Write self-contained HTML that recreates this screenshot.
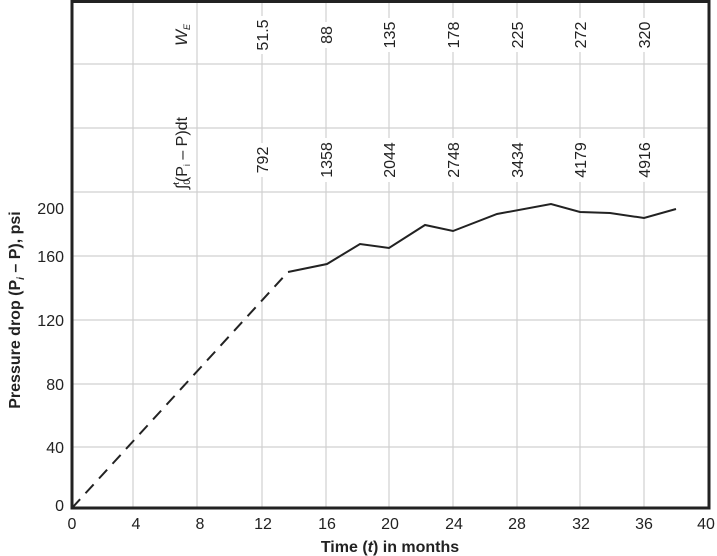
<!DOCTYPE html>
<html><head><meta charset="utf-8"><style>
html,body{margin:0;padding:0;background:#fff}
svg{display:block;font-family:"Liberation Sans",sans-serif}
</style></head><body>
<svg width="717" height="556" viewBox="0 0 717 556" xmlns="http://www.w3.org/2000/svg">
<g stroke="#d0d0d0" stroke-width="1.2">
<line x1="72" y1="64" x2="709" y2="64"/>
<line x1="72" y1="128" x2="709" y2="128"/>
<line x1="72" y1="192" x2="709" y2="192"/>
<line x1="72" y1="256" x2="709" y2="256"/>
<line x1="72" y1="320" x2="709" y2="320"/>
<line x1="72" y1="384" x2="709" y2="384"/>
<line x1="72" y1="447" x2="709" y2="447"/>
<line x1="133" y1="0" x2="133" y2="508"/>
<line x1="197" y1="0" x2="197" y2="508"/>
<line x1="262" y1="0" x2="262" y2="508"/>
<line x1="326" y1="0" x2="326" y2="508"/>
<line x1="389" y1="0" x2="389" y2="508"/>
<line x1="453" y1="0" x2="453" y2="508"/>
<line x1="517" y1="0" x2="517" y2="508"/>
<line x1="580" y1="0" x2="580" y2="508"/>
<line x1="644" y1="0" x2="644" y2="508"/>
</g>
<g fill="none" stroke="#222" stroke-width="3">
<polyline points="72,0 72,508 709,508 709,1.5 72,1.5"/>
</g>
<line x1="72" y1="508" x2="288" y2="272" stroke="#222" stroke-width="2" stroke-dasharray="12,8"/>
<polyline fill="none" stroke="#222" stroke-width="2" points="288,272 327,264 360,244 389,248 425,225 453,231 497,214 551,204 580,212 610,213 644,218 676,209"/>
<g font-size="16" fill="#222" text-anchor="end">
<text x="64" y="214">200</text>
<text x="64" y="262">160</text>
<text x="64" y="326">120</text>
<text x="64" y="390">80</text>
<text x="64" y="453">40</text>
<text x="64" y="511">0</text>
</g>
<g font-size="16" fill="#222" text-anchor="middle">
<text x="72" y="529">0</text>
<text x="136" y="529">4</text>
<text x="200" y="529">8</text>
<text x="263" y="529">12</text>
<text x="327" y="529">16</text>
<text x="390" y="529">20</text>
<text x="454" y="529">24</text>
<text x="517" y="529">28</text>
<text x="581" y="529">32</text>
<text x="644" y="529">36</text>
<text x="706" y="529">40</text>
</g>
<text x="390" y="552" font-size="16" font-weight="bold" text-anchor="middle" fill="#222">Time (<tspan font-style="italic">t</tspan>) in months</text>
<text transform="translate(20,310) rotate(-90)" font-size="16" font-weight="bold" text-anchor="middle" fill="#222">Pressure drop (P<tspan font-size="10" dy="4" font-style="italic">i</tspan><tspan dy="-4"> – P), psi</tspan></text>
<g font-size="16" fill="#222" text-anchor="middle">
<g>
<rect x="254" y="16" width="17" height="38" fill="#fff"/><text transform="translate(268,35) rotate(-90)">51.5</text>
<rect x="318" y="22" width="17" height="26" fill="#fff"/><text transform="translate(332,35) rotate(-90)">88</text>
<rect x="381" y="18" width="17" height="34" fill="#fff"/><text transform="translate(395,35) rotate(-90)">135</text>
<rect x="445" y="18" width="17" height="34" fill="#fff"/><text transform="translate(459,35) rotate(-90)">178</text>
<rect x="509" y="18" width="17" height="34" fill="#fff"/><text transform="translate(523,35) rotate(-90)">225</text>
<rect x="572" y="18" width="17" height="34" fill="#fff"/><text transform="translate(586,35) rotate(-90)">272</text>
<rect x="636" y="18" width="17" height="34" fill="#fff"/><text transform="translate(650,35) rotate(-90)">320</text>
</g>
<g>
<rect x="254" y="143" width="17" height="34" fill="#fff"/><text transform="translate(268,160) rotate(-90)">792</text>
<rect x="318" y="138" width="17" height="44" fill="#fff"/><text transform="translate(332,160) rotate(-90)">1358</text>
<rect x="381" y="138" width="17" height="44" fill="#fff"/><text transform="translate(395,160) rotate(-90)">2044</text>
<rect x="445" y="138" width="17" height="44" fill="#fff"/><text transform="translate(459,160) rotate(-90)">2748</text>
<rect x="509" y="138" width="17" height="44" fill="#fff"/><text transform="translate(523,160) rotate(-90)">3434</text>
<rect x="572" y="138" width="17" height="44" fill="#fff"/><text transform="translate(586,160) rotate(-90)">4179</text>
<rect x="636" y="138" width="17" height="44" fill="#fff"/><text transform="translate(650,160) rotate(-90)">4916</text>
</g>
<text transform="translate(187,35) rotate(-90)" font-style="italic" font-size="17">W<tspan font-size="9" dy="3">E</tspan></text>
<text transform="translate(187,153) rotate(-90)" font-size="16">∫<tspan font-size="9" dy="3">0</tspan><tspan font-size="9" dy="-11" dx="-5">t</tspan><tspan dy="8">(P</tspan><tspan font-size="9" dy="3">i</tspan><tspan dy="-3"> – P)dt</tspan></text>
</g>
</svg>
</body></html>
